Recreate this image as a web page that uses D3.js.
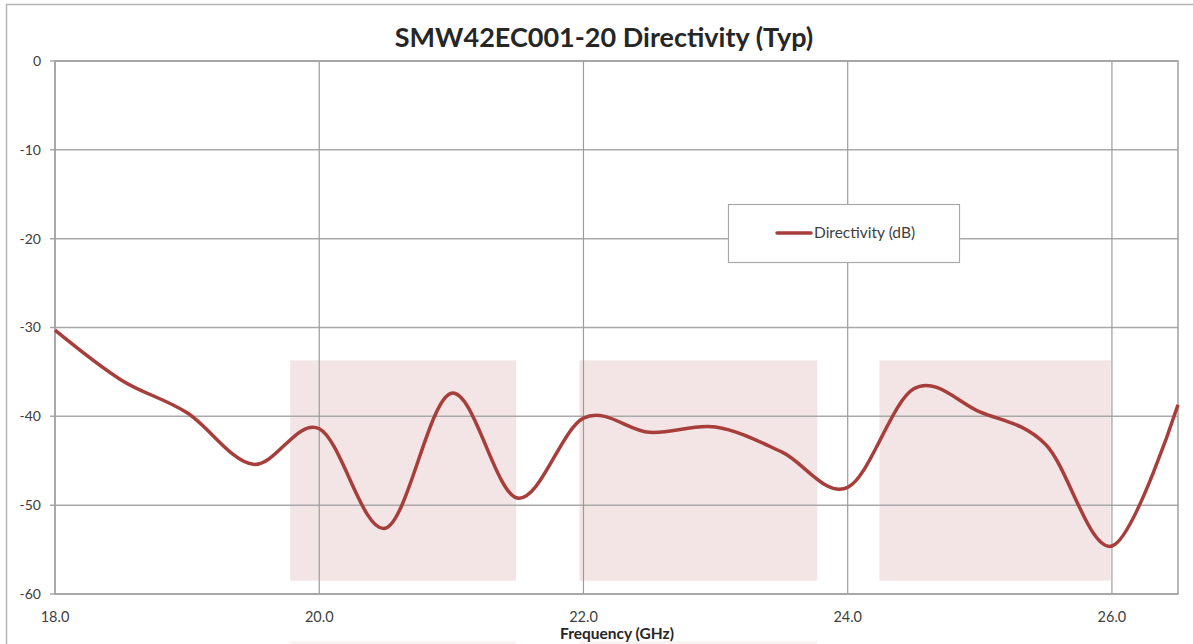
<!DOCTYPE html>
<html lang="en">
<head>
    <meta charset="UTF-8">
    <title>SMW42EC001-20 Directivity (Typ)</title>
    <style>
        body, html {
            margin: 0;
            padding: 0;
            background: #fff;
            overflow: hidden;
        }
        svg text {
            font-family: Lato, "Open Sans", sans-serif;
            fill: #404040;
        }
    </style>
    <script src="https://d3js.org/d3.v7.min.js"></script>
</head>
<body>
    <div id="chart"></div>
    <script>
        // frequency (GHz) and directivity (dB), read every 0.5 GHz
        const freqs = [18.0, 18.5, 19.0, 19.5, 20.0, 20.5, 21.0, 21.5, 22.0, 22.5, 23.0, 23.5, 24.0, 24.5, 25.0, 25.5, 26.0, 26.5];
        const directivity = [-30.3, -35.9, -39.6, -45.4, -41.4, -52.6, -37.4, -49.2, -40.2, -41.8, -41.2, -44.0, -48.0, -36.9, -39.5, -43.2, -54.6, -38.7];

        // shaded bands (GHz start, GHz end), spanning dB top..bottom
        const bandStart = [19.78, 21.97, 24.24];
        const bandEnd = [21.49, 23.77, 25.99];
        const bandTop = -33.7;
        const bandBottom = -58.5;

        const xTicks = [18, 20, 22, 24, 26];
        const yTicks = [0, -10, -20, -30, -40, -50, -60];

        const chartTitle = "SMW42EC001-20 Directivity (Typ)";
        const xTitle = "Frequency (GHz)";
        const seriesName = "Directivity (dB)";

        const W = 1193, H = 644;
        const margin = { top: 61, right: 15, bottom: 50, left: 55 };
        const width = 1178 - margin.left,
              height = 594 - margin.top;

        const svg = d3.select("#chart").append("svg")
            .attr("width", W)
            .attr("height", H);

        // outer chart frame
        svg.append("rect")
            .attr("x", 6.5).attr("y", 4.5)
            .attr("width", 1300).attr("height", 800)
            .attr("fill", "none")
            .attr("stroke", "#b4b4b4")
            .attr("stroke-width", 1.5);

        const g = svg.append("g")
            .attr("transform", `translate(${margin.left},${margin.top})`);

        const x = d3.scaleLinear().domain([18, 26.5]).range([0, width]);
        const y = d3.scaleLinear().domain([-60, 0]).range([height, 0]);

        // shaded bands
        g.selectAll("rect.band")
            .data(bandStart)
            .enter()
            .append("rect")
            .attr("class", "band")
            .attr("x", (d, i) => x(d))
            .attr("y", y(bandTop))
            .attr("width", (d, i) => x(bandEnd[i]) - x(d))
            .attr("height", y(bandBottom) - y(bandTop))
            .attr("fill", "#f3e5e5");

        // faint strips peeking in at the bottom edge
        svg.selectAll("rect.strip")
            .data(bandStart.slice(0, 2))
            .enter()
            .append("rect")
            .attr("x", (d, i) => margin.left + x(d))
            .attr("y", 641)
            .attr("width", (d, i) => x(bandEnd[i]) - x(d))
            .attr("height", 3)
            .attr("fill", "#f9f4f4");

        // gridlines
        g.selectAll("line.hgrid")
            .data(yTicks)
            .enter()
            .append("line")
            .attr("x1", -5).attr("x2", width)
            .attr("y1", d => y(d)).attr("y2", d => y(d))
            .attr("stroke", "#a9a9a9")
            .attr("stroke-width", 1.5);

        g.selectAll("line.vgrid")
            .data(xTicks)
            .enter()
            .append("line")
            .attr("x1", d => x(d)).attr("x2", d => x(d))
            .attr("y1", 0).attr("y2", height)
            .attr("stroke", "#9c9c9c")
            .attr("stroke-width", 1.2);

        // plot border
        g.append("rect")
            .attr("x", 0).attr("y", 0)
            .attr("width", width).attr("height", height)
            .attr("fill", "none")
            .attr("stroke", "#a0a0a0")
            .attr("stroke-width", 1.5);

        // y labels
        g.selectAll("text.ylab")
            .data(yTicks)
            .enter()
            .append("text")
            .attr("x", -14)
            .attr("y", d => y(d))
            .attr("dy", "0.35em")
            .attr("text-anchor", "end")
            .style("font-size", "14px")
            .text(d => d);

        // x labels
        g.selectAll("text.xlab")
            .data(xTicks)
            .enter()
            .append("text")
            .attr("x", d => x(d))
            .attr("y", height + 28)
            .attr("text-anchor", "middle")
            .style("font-size", "14.5px")
            .text(d => d.toFixed(1));

        // data line
        const line = d3.line()
            .x((d, i) => x(freqs[i]))
            .y(d => y(d))
            .curve(d3.curveCatmullRom.alpha(0));

        g.append("path")
            .datum(directivity)
            .attr("d", line)
            .attr("fill", "none")
            .attr("stroke", "#a73e3b")
            .attr("stroke-width", 3.5)
            .attr("stroke-linejoin", "round");

        // title
        svg.append("text")
            .attr("x", 604)
            .attr("y", 47)
            .attr("text-anchor", "middle")
            .style("font-size", "27px")
            .style("font-weight", "bold")
            .style("fill", "#262626")
            .text(chartTitle);

        // x axis title
        svg.append("text")
            .attr("x", 617)
            .attr("y", 639)
            .attr("text-anchor", "middle")
            .style("font-size", "15.5px")
            .style("font-weight", "bold")
            .style("fill", "#262626")
            .text(xTitle);

        // legend
        const legend = svg.append("g").attr("transform", "translate(728,204)");
        legend.append("rect")
            .attr("x", 0.5).attr("y", 0.5)
            .attr("width", 231).attr("height", 58)
            .attr("fill", "#fff")
            .attr("stroke", "#a9a9a9")
            .attr("stroke-width", 1.2);
        legend.append("line")
            .attr("x1", 49).attr("x2", 83)
            .attr("y1", 29).attr("y2", 29)
            .attr("stroke", "#a73e3b")
            .attr("stroke-width", 3.5)
            .attr("stroke-linecap", "round");
        legend.append("text")
            .attr("x", 86)
            .attr("y", 29)
            .attr("dy", "0.35em")
            .style("font-size", "15.5px")
            .text(seriesName);
    </script>
</body>
</html>
